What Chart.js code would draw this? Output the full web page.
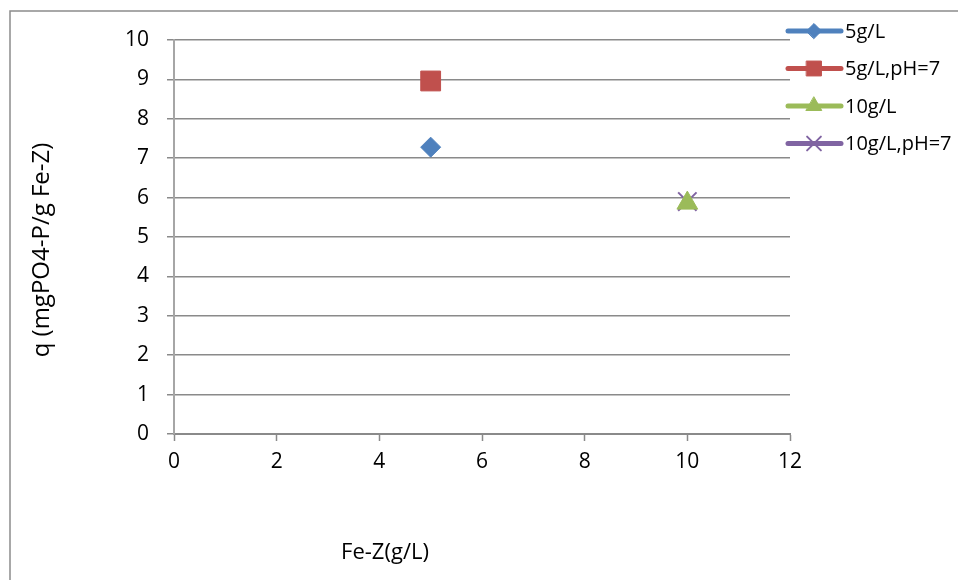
<!DOCTYPE html>
<html>
<head>
<meta charset="utf-8">
<script src="https://cdn.jsdelivr.net/npm/chart.js@4"></script>
<style>
  html, body { margin: 0; padding: 0; background: #fff; overflow: hidden; }
  #wrap { width: 958px; height: 580px; }
</style>
</head>
<body>
<div id="wrap"><canvas id="qChart" width="958" height="580"></canvas></div>
<script>
// series: one point each (Fe-Z dose, q)
var seriesNames = ['5g/L', '5g/L,pH=7', '10g/L', '10g/L,pH=7'];
var doseX = [5, 5, 10, 10];
var qValues = [7.28, 8.96, 5.86, 5.9];
var seriesColors = ['#4f81bd', '#c0504d', '#9bbb59', '#8064a2'];
var markerStyles = ['rectRot', 'rect', 'triangle', 'crossRot'];
var markerRadius = [10, 14, 12, 13];
var xTicks = [0, 2, 4, 6, 8, 10, 12];
var yTicks = [0, 1, 2, 3, 4, 5, 6, 7, 8, 9, 10];

var fontFamily = '"Open Sans", "Liberation Sans", sans-serif';

var datasets = seriesNames.map(function (name, i) {
    return {
        label: name,
        data: [{ x: doseX[i], y: qValues[i] }],
        backgroundColor: seriesColors[i],
        borderColor: seriesColors[i],
        borderWidth: markerStyles[i] === 'crossRot' ? 2 : 1,
        pointStyle: markerStyles[i],
        pointRadius: markerRadius[i],
        pointHoverRadius: markerRadius[i],
        showLine: false
    };
});

// frame, axis titles and the line+marker legend
var decorations = {
    id: 'decorations',
    beforeDraw: function (chart) {
        var ctx = chart.ctx;
        ctx.save();
        ctx.strokeStyle = '#8c8c8c';
        ctx.lineWidth = 1.5;
        ctx.strokeRect(10, 11, 1000, 1000);
        ctx.restore();
    },
    afterDraw: function (chart) {
        var ctx = chart.ctx;
        ctx.save();
        ctx.fillStyle = '#000';
        ctx.textAlign = 'center';
        ctx.textBaseline = 'middle';
        ctx.font = '22px ' + fontFamily;
        ctx.fillText('Fe-Z(g/L)', 385, 553);
        ctx.translate(42, 250);
        ctx.rotate(-Math.PI / 2);
        ctx.font = '24px ' + fontFamily;
        ctx.fillText('q (mgPO4-P/g Fe-Z)', 0, 0);
        ctx.restore();

        chart.data.datasets.forEach(function (ds, i) {
            var y = 31 + i * 37.5;
            ctx.save();
            ctx.strokeStyle = ds.borderColor;
            ctx.lineWidth = 5;
            ctx.lineCap = 'round';
            ctx.beginPath();
            ctx.moveTo(788, y);
            ctx.lineTo(841, y);
            ctx.stroke();
            ctx.fillStyle = ds.backgroundColor;
            ctx.lineWidth = ds.pointStyle === 'crossRot' ? 2 : 1;
            Chart.helpers.drawPoint(ctx, {
                pointStyle: ds.pointStyle,
                radius: ds.pointRadius * 0.75,
                borderWidth: ctx.lineWidth
            }, 814, y);
            ctx.fillStyle = '#000';
            ctx.font = '20px ' + fontFamily;
            ctx.textAlign = 'left';
            ctx.textBaseline = 'middle';
            ctx.fillText(ds.label, 845, y + 1);
            ctx.restore();
        });
    }
};

new Chart(document.getElementById('qChart').getContext('2d'), {
    type: 'scatter',
    data: { datasets: datasets },
    plugins: [decorations],
    options: {
        responsive: false,
        animation: false,
        layout: { padding: { left: 0, top: 40, right: 168, bottom: 0 } },
        plugins: {
            legend: { display: false },
            tooltip: { enabled: false }
        },
        scales: {
            x: {
                type: 'linear',
                min: 0,
                max: 12,
                afterBuildTicks: function (scale) {
                    scale.ticks = xTicks.map(function (v) { return { value: v }; });
                },
                afterFit: function (scale) { scale.height = 146; },
                grid: {
                    drawOnChartArea: false,
                    drawTicks: true,
                    tickLength: 7,
                    tickWidth: 1.5,
                    tickColor: '#8a8a8a'
                },
                border: { color: '#8a8a8a', width: 2 },
                ticks: {
                    color: '#000',
                    padding: 8,
                    font: { family: fontFamily, size: 21 }
                }
            },
            y: {
                type: 'linear',
                min: 0,
                max: 10,
                afterBuildTicks: function (scale) {
                    scale.ticks = yTicks.map(function (v) { return { value: v }; });
                },
                afterFit: function (scale) { scale.width = 174; },
                grid: {
                    color: '#8a8a8a',
                    lineWidth: 1.5,
                    drawTicks: true,
                    tickLength: 7
                },
                border: { color: '#a6a6a6', width: 2 },
                ticks: {
                    color: '#000',
                    padding: 18,
                    font: { family: fontFamily, size: 21 }
                }
            }
        }
    }
});
</script>
</body>
</html>
